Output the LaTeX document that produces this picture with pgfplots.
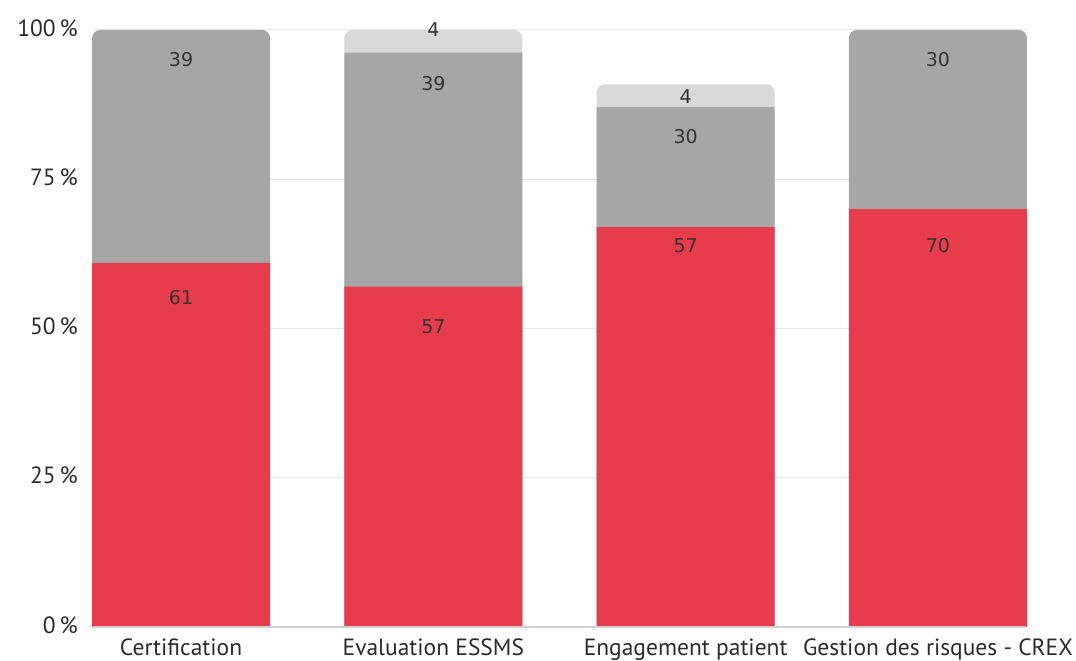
\documentclass[border=0pt]{standalone}
\usepackage{pgfplots}
\pgfplotsset{compat=1.18}
\usepackage{fontspec}
\setmainfont{PT Sans}
\newfontfamily\labfont{DejaVu Sans}
\definecolor{cred}{HTML}{E63C4B}
\definecolor{cgray}{HTML}{A6A6A6}
\definecolor{clight}{HTML}{D9D9D9}
\definecolor{gridc}{HTML}{E8E8E8}
\definecolor{basec}{HTML}{D0D0D0}
\definecolor{tickc}{HTML}{2B2B2B}
\definecolor{labc}{HTML}{333333}
\begin{document}
\begin{tikzpicture}
\useasboundingbox (-93pt,-34pt) rectangle (983pt,627pt);
\begin{axis}[
  scale only axis, width=933pt, height=597pt,
  at={(0pt,0pt)}, anchor=south west,
  xmin=-0.349, xmax=3.349, ymin=0, ymax=100,
  xtick={0,1,2,3},
  xticklabels={Certification, Evaluation ESSMS, Engagement patient, Gestion des risques - CREX},
  ytick={0,25,50,75,100},
  /pgf/number format/assume math mode=true,
  yticklabel={\pgfmathprintnumber{\tick}\,\%},
  ymajorgrids, grid style={draw=gridc, line width=1pt},
  axis line style={draw=none}, major tick style={draw=none},
  tick label style={font=\fontsize{23.5}{26}\selectfont, text=tickc},
  yticklabel style={anchor=east, inner sep=0pt, xshift=-15pt, yshift=2pt},
  xticklabel style={anchor=north, inner sep=0pt, yshift=-12pt},
  clip=false,
]
\addplot[ybar, bar width=178pt, bar shift=0pt, fill=clight, draw=none, rounded corners=8pt] coordinates {(1,100) (2,90.9)};
\addplot[ybar, bar width=178pt, bar shift=0pt, fill=cgray, draw=none, rounded corners=8pt] coordinates {(0,100) (3,100)};
\addplot[ybar, bar width=178pt, bar shift=0pt, fill=cgray, draw=none] coordinates {(1,96.2) (2,87.1)};
\addplot[ybar, bar width=178pt, bar shift=0pt, fill=cred, draw=none] coordinates {(0,61) (1,57) (2,67) (3,70)};
\draw[basec, line width=1.2pt] (axis cs:-0.349,0) -- (axis cs:3.349,0);
\addplot[draw=none, mark=none, nodes near coords, point meta=explicit symbolic,
  nodes near coords align={center},
  every node near coord/.append style={anchor=center, font=\labfont\fontsize{19}{22}\selectfont, text=labc}]
  table[meta=label] {
x y label
0 55.2 61
0 95.1 39
1 100 4
1 91.1 39
1 50.3 57
2 88.8 4
2 82.2 30
2 63.9 57
3 63.9 70
3 95.1 30
};
\end{axis}
\end{tikzpicture}
\end{document}
